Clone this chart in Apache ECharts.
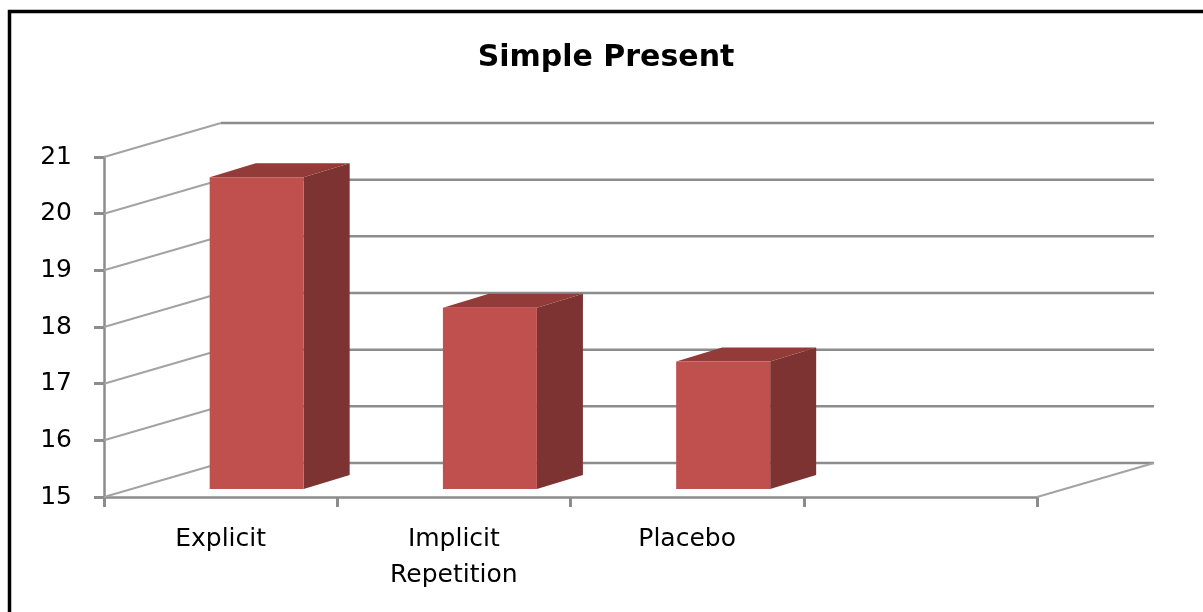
<!DOCTYPE html>
<html>
<head>
<meta charset="utf-8">
<script src="https://cdn.jsdelivr.net/npm/echarts@6/dist/echarts.min.js"></script>
<style>
  html, body { margin: 0; padding: 0; background: #ffffff; }
  #chart { width: 1203px; height: 612px; }
</style>
</head>
<body>
<div id="chart"></div>
<script>
// Chart content
const chartTitle = 'Simple Present';
const categories = ['Explicit', 'Implicit\nRepetition', 'Placebo', ''];
const scores = [20.5, 18.2, 17.25];
const yTicks = [15, 16, 17, 18, 19, 20, 21];
const yMin = 15;
const yMax = 21;

// Oblique projection of the depth axis: front plane -> back wall (px)
const DEPTH = [117, -34];
// Bar box layout, relative to the category centre / band width
const BAR_LEFT = -0.047;
const BAR_RIGHT = 0.356;
const BAR_SHIFT_Y = -8;
const BAR_DEPTH = [46, -14];

const GRID_COLOR = '#8c8c8c';
const WALL_COLOR = '#a3a3a3';
const FRONT_COLOR = '#c0504d';
const SIDE_COLOR = '#7c3331';
const TOP_COLOR = '#923b38';
const FONT = 'DejaVu Sans';

const chart = echarts.init(document.getElementById('chart'), null, { renderer: 'canvas' });

// Back wall gridlines plus the slanted lines on the side wall and floor
function renderWalls(params, api) {
  const v = api.value(1);
  const band = api.size([1, 0])[0];
  const p0 = api.coord([0, v]);
  const pN = api.coord([categories.length - 1, v]);
  const x0 = p0[0] - band / 2;
  const x1 = pN[0] + band / 2;
  const y = p0[1];
  const children = [
    { type: 'polyline', shape: { points: [[x0, y], [x0 + DEPTH[0], y + DEPTH[1]]] },
      style: { stroke: WALL_COLOR, lineWidth: 2, fill: null } },
    { type: 'polyline', shape: { points: [[x0 + DEPTH[0], y + DEPTH[1]], [x1 + DEPTH[0], y + DEPTH[1]]] },
      style: { stroke: GRID_COLOR, lineWidth: 2.5, fill: null } }
  ];
  if (v === yMin) {
    children.push({ type: 'polyline', shape: { points: [[x1, y], [x1 + DEPTH[0], y + DEPTH[1]]] },
      style: { stroke: WALL_COLOR, lineWidth: 2, fill: null } });
  }
  return { type: 'group', children: children };
}

// Pseudo-3D column: front face, right side and top
function renderBar(params, api) {
  const i = api.value(0);
  const v = api.value(1);
  const band = api.size([1, 0])[0];
  const top = api.coord([i, v]);
  const base = api.coord([i, yMin]);
  const xl = top[0] + BAR_LEFT * band;
  const xr = top[0] + BAR_RIGHT * band;
  const yt = top[1] + BAR_SHIFT_Y;
  const yb = base[1] + BAR_SHIFT_Y;
  const dx = BAR_DEPTH[0], dy = BAR_DEPTH[1];
  return {
    type: 'group',
    children: [
      { type: 'polygon', shape: { points: [[xr, yt], [xr + dx, yt + dy], [xr + dx, yb + dy], [xr, yb]] },
        style: { fill: SIDE_COLOR } },
      { type: 'polygon', shape: { points: [[xl, yt], [xl + dx, yt + dy], [xr + dx, yt + dy], [xr, yt]] },
        style: { fill: TOP_COLOR } },
      { type: 'rect', shape: { x: xl, y: yt, width: xr - xl, height: yb - yt },
        style: { fill: FRONT_COLOR } }
    ]
  };
}

const option = {
  backgroundColor: '#ffffff',
  animation: false,
  title: {
    text: chartTitle,
    left: 601,
    top: 38,
    textAlign: 'center',
    textStyle: { fontFamily: FONT, fontSize: 30, fontWeight: 'bold', color: '#000000' }
  },
  grid: { left: 104, right: 166, top: 157, bottom: 115, containLabel: false },
  xAxis: {
    type: 'category',
    data: categories,
    boundaryGap: true,
    axisLine: { show: true, lineStyle: { color: GRID_COLOR, width: 2.5 } },
    axisTick: { show: true, length: 10, lineStyle: { color: GRID_COLOR, width: 3 } },
    axisLabel: { fontFamily: FONT, fontSize: 25, color: '#000000', margin: 24, lineHeight: 36, interval: 0 },
    splitLine: { show: false }
  },
  yAxis: {
    type: 'value',
    min: yMin,
    max: yMax,
    interval: 1,
    axisLine: { show: true, lineStyle: { color: GRID_COLOR, width: 2.5 } },
    axisTick: { show: true, length: 10, lineStyle: { color: GRID_COLOR, width: 3 } },
    axisLabel: { fontFamily: FONT, fontSize: 25, color: '#000000', margin: 32 },
    splitLine: { show: false }
  },
  graphic: [
    { type: 'rect', left: 7, top: 9, shape: { x: 0, y: 0, width: 1300, height: 700 },
      style: { fill: null, stroke: '#000000', lineWidth: 3.5 }, silent: true, z: 100 }
  ],
  series: [
    {
      name: 'walls',
      type: 'custom',
      coordinateSystem: 'cartesian2d',
      clip: false,
      z: 1,
      renderItem: renderWalls,
      data: yTicks.map(v => [0, v])
    },
    {
      name: 'Simple Present',
      type: 'custom',
      coordinateSystem: 'cartesian2d',
      clip: false,
      z: 5,
      renderItem: renderBar,
      data: scores.map((v, i) => [i, v])
    }
  ]
};

chart.setOption(option);
</script>
</body>
</html>
